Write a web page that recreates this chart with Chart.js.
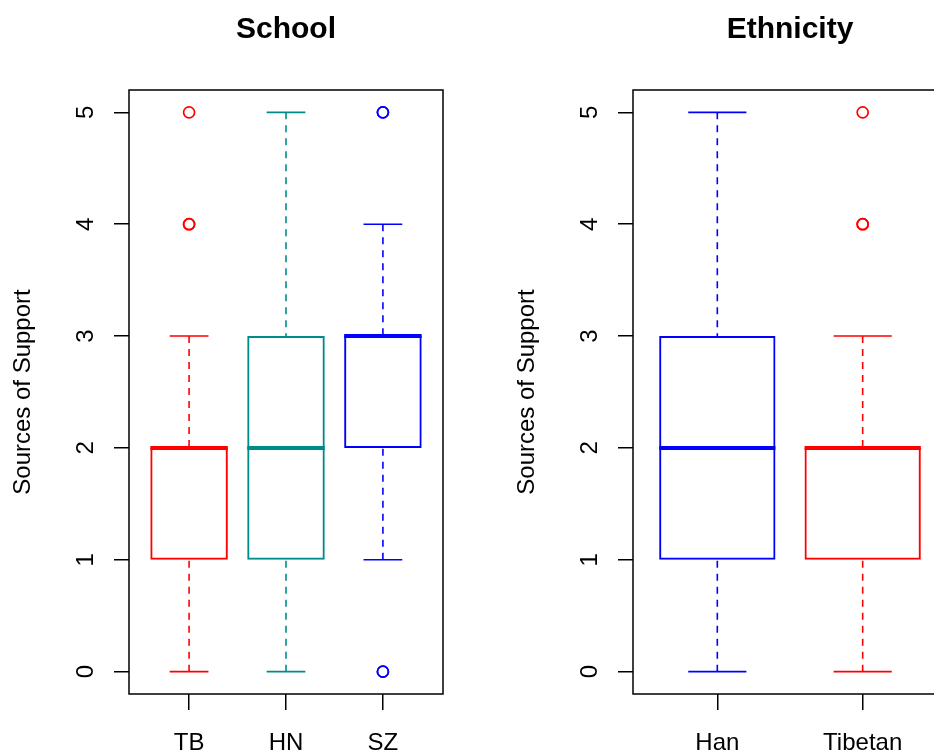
<!DOCTYPE html>
<html>
<head>
<meta charset="utf-8">
<title>Sources of Support</title>
<script src="https://cdn.jsdelivr.net/npm/chart.js@4.4.1/dist/chart.umd.min.js"></script>
<style>
  html, body { margin: 0; padding: 0; background: #fff; overflow: hidden; width: 934px; height: 753px; }
  .panel { position: absolute; top: 0; width: 504px; height: 753px; }
</style>
</head>
<body>
<div class="panel" style="left:0"><canvas id="schoolChart" width="504" height="753"></canvas></div>
<div class="panel" style="left:504px"><canvas id="ethnicityChart" width="504" height="753"></canvas></div>
<script>
const FONT = "'Liberation Sans', Arial, Helvetica, sans-serif";

// shared y axis
const yTicks = [0, 1, 2, 3, 4, 5];
const yLabel = "Sources of Support";

// School panel (five-number summaries)
const schoolGroups = ["TB", "HN", "SZ"];
const schoolColors = ["#FF0000", "#008B8B", "#0000FF"];
const schoolLow = [0, 0, 1];
const schoolQ1 = [1, 1, 2];
const schoolMedian = [2, 2, 3];
const schoolQ3 = [2, 3, 3];
const schoolHigh = [3, 5, 4];
const schoolOutliers = [[4, 4, 5], [], [0, 0, 5, 5]];

// Ethnicity panel
const ethnicityGroups = ["Han", "Tibetan"];
const ethnicityColors = ["#0000FF", "#FF0000"];
const ethnicityLow = [0, 0];
const ethnicityQ1 = [1, 1];
const ethnicityMedian = [2, 2];
const ethnicityQ3 = [3, 2];
const ethnicityHigh = [5, 3];
const ethnicityOutliers = [[], [4, 4, 5]];

function boxPlot(canvasId, title, groups, colors, low, q1, median, q3, high, outliers) {
  const n = groups.length;
  // R boxplot: xlim (0.5, n + 0.5) plus 4% on each side
  const xMin = 0.5 - 0.04 * n;
  const xMax = n + 0.5 + 0.04 * n;

  const boxes = groups.map((g, i) => ({ x: i + 1, y: [q1[i], q3[i]] }));
  const points = [];
  const pointColors = [];
  outliers.forEach((vals, i) => {
    vals.forEach((v) => {
      points.push({ x: i + 1, y: v });
      pointColors.push(colors[i]);
    });
  });

  // whiskers, staples, medians, frame and rotated labels
  const boxParts = {
    id: "boxParts",
    afterDatasetsDraw(chart) {
      const { ctx } = chart;
      const x = chart.scales.x;
      const y = chart.scales.y;
      ctx.save();
      ctx.lineCap = "butt";
      groups.forEach((g, i) => {
        const cx = x.getPixelForValue(i + 1);
        const half = x.getPixelForValue(i + 1.4) - cx;
        const capHalf = half / 2;
        ctx.strokeStyle = colors[i];

        ctx.lineWidth = 1.6;
        ctx.setLineDash([7, 6]);
        ctx.beginPath();
        ctx.moveTo(cx, y.getPixelForValue(low[i]));
        ctx.lineTo(cx, y.getPixelForValue(q1[i]));
        ctx.moveTo(cx, y.getPixelForValue(high[i]));
        ctx.lineTo(cx, y.getPixelForValue(q3[i]));
        ctx.stroke();

        ctx.setLineDash([]);
        ctx.beginPath();
        ctx.moveTo(cx - capHalf, y.getPixelForValue(low[i]));
        ctx.lineTo(cx + capHalf, y.getPixelForValue(low[i]));
        ctx.moveTo(cx - capHalf, y.getPixelForValue(high[i]));
        ctx.lineTo(cx + capHalf, y.getPixelForValue(high[i]));
        ctx.stroke();

        ctx.lineWidth = 4;
        ctx.beginPath();
        ctx.moveTo(cx - half, y.getPixelForValue(median[i]));
        ctx.lineTo(cx + half, y.getPixelForValue(median[i]));
        ctx.stroke();
      });
      ctx.restore();
    },
    afterDraw(chart) {
      const { ctx, chartArea } = chart;
      const x = chart.scales.x;
      const y = chart.scales.y;
      ctx.save();
      ctx.strokeStyle = "#000";
      ctx.lineWidth = 1.5;
      ctx.strokeRect(chartArea.left, chartArea.top, chartArea.right - chartArea.left, chartArea.bottom - chartArea.top);

      ctx.fillStyle = "#000";
      ctx.font = "24px " + FONT;
      ctx.textAlign = "center";
      ctx.textBaseline = "alphabetic";
      groups.forEach((g, i) => {
        ctx.fillText(g, x.getPixelForValue(i + 1), chartArea.bottom + 56);
      });
      yTicks.forEach((v) => {
        ctx.save();
        ctx.translate(chartArea.left - 36, y.getPixelForValue(v));
        ctx.rotate(-Math.PI / 2);
        ctx.fillText(String(v), 0, 0);
        ctx.restore();
      });
      ctx.restore();
    },
  };

  const gridStyle = {
    display: true,
    drawOnChartArea: false,
    drawTicks: true,
    color: "#000",
    lineWidth: 1.5,
    offset: false,
  };

  return new Chart(document.getElementById(canvasId), {
    type: "bar",
    data: {
      datasets: [
        {
          type: "bar",
          data: boxes,
          backgroundColor: "rgba(0,0,0,0)",
          borderColor: colors,
          borderWidth: 2,
          borderSkipped: false,
          barPercentage: 0.8,
          categoryPercentage: 1,
        },
        {
          type: "scatter",
          data: points,
          showLine: false,
          pointStyle: "circle",
          pointRadius: 5.5,
          pointBorderWidth: 1.7,
          pointBackgroundColor: "rgba(0,0,0,0)",
          pointBorderColor: pointColors,
        },
      ],
    },
    options: {
      responsive: false,
      devicePixelRatio: 1,
      animation: false,
      events: [],
      layout: { padding: { left: 0, right: 61, top: 0, bottom: 0 } },
      plugins: {
        legend: { display: false },
        tooltip: { enabled: false },
        title: {
          display: true,
          text: title,
          fullSize: false,
          color: "#000",
          font: { family: FONT, size: 30, weight: "bold", lineHeight: 1.2 },
          padding: { top: 11.6, bottom: 42.4 },
        },
      },
      scales: {
        x: {
          type: "linear",
          min: xMin,
          max: xMax,
          bounds: "data",
          offset: false,
          afterBuildTicks: (s) => {
            s.ticks = groups.map((g, i) => ({ value: i + 1 }));
          },
          afterFit: (s) => {
            s.height = 59;
          },
          ticks: { display: false },
          grid: Object.assign({}, gridStyle, { tickLength: 16 }),
          border: { display: false },
        },
        y: {
          type: "linear",
          min: -0.2,
          max: 5.2,
          bounds: "data",
          afterBuildTicks: (s) => {
            s.ticks = yTicks.map((v) => ({ value: v }));
          },
          afterFit: (s) => {
            s.width = 129;
          },
          ticks: { display: false },
          grid: Object.assign({}, gridStyle, { tickLength: 15 }),
          border: { display: false },
          title: {
            display: true,
            text: yLabel,
            color: "#000",
            font: { family: FONT, size: 24, lineHeight: 1.2 },
            padding: { top: 9, bottom: 0 },
          },
        },
      },
    },
    plugins: [boxParts],
  });
}

boxPlot("schoolChart", "School", schoolGroups, schoolColors,
  schoolLow, schoolQ1, schoolMedian, schoolQ3, schoolHigh, schoolOutliers);
boxPlot("ethnicityChart", "Ethnicity", ethnicityGroups, ethnicityColors,
  ethnicityLow, ethnicityQ1, ethnicityMedian, ethnicityQ3, ethnicityHigh, ethnicityOutliers);
</script>
</body>
</html>
